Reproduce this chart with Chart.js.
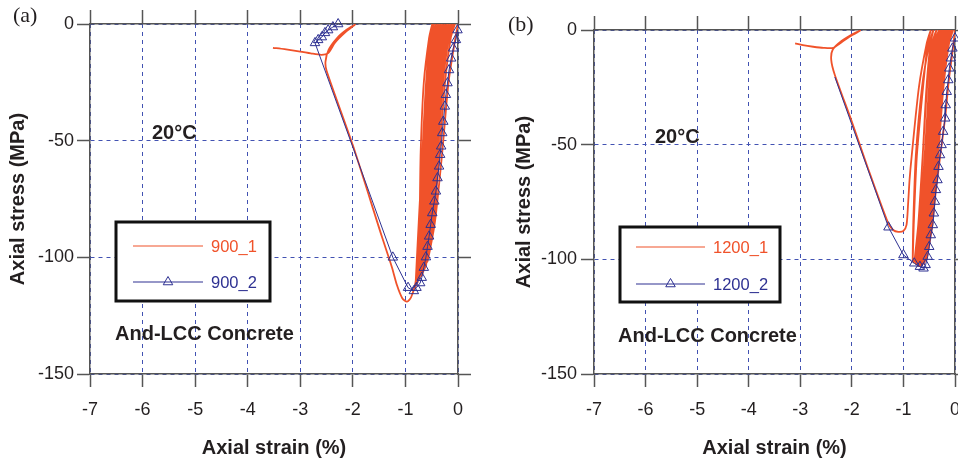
<!DOCTYPE html>
<html>
<head>
<meta charset="utf-8">
<title>Axial stress - axial strain, And-LCC concrete</title>
<script src="https://cdn.jsdelivr.net/npm/chart.js@4.4.1/dist/chart.umd.min.js"></script>
<style>
  html, body { margin: 0; padding: 0; background: #fff; overflow: hidden; }
  #wrap { position: relative; width: 958px; height: 461px; overflow: hidden; background: #fff; }
  #chartA { position: absolute; left: 0; top: 0; }
  #chartB { position: absolute; left: 479px; top: 0; }
</style>
</head>
<body>
<div id="wrap">
  <canvas id="chartA" width="479" height="461"></canvas>
  <canvas id="chartB" width="500" height="461"></canvas>
</div>
<script>
// Labels
const xTitle = 'Axial strain (%)';
const yTitle = 'Axial stress (MPa)';
const tempLabel = '20°C';
const materialLabel = 'And-LCC Concrete';
const seriesA = ['900_1', '900_2'];
const seriesB = ['1200_1', '1200_2'];

// Panel (a), specimen 900_1 (cyclic loops, then softening branch)
const strainA1 = [
    0, -0.05, -0.18, -0.30, -0.44, -0.58,
    -0.466, -0.351, -0.247, -0.138, -0.06,
    -0.17, -0.291, -0.401, -0.511, -0.61,
    -0.498, -0.386, -0.284, -0.177, -0.10,
    -0.206, -0.323, -0.429, -0.535, -0.63,
    -0.522, -0.414, -0.316, -0.214, -0.14,
    -0.242, -0.354, -0.456, -0.558, -0.65,
    -0.547, -0.443, -0.349, -0.251, -0.18,
    -0.278, -0.386, -0.484, -0.582, -0.67,
    -0.571, -0.472, -0.382, -0.288, -0.22,
    -0.314, -0.417, -0.511, -0.605, -0.69,
    -0.595, -0.501, -0.415, -0.325, -0.26,
    -0.35, -0.449, -0.539, -0.629, -0.71,
    -0.62, -0.53, -0.448, -0.362, -0.30,
    -0.386, -0.481, -0.567, -0.653, -0.73,
    -0.644, -0.558, -0.48, -0.399, -0.34,
    -0.422, -0.512, -0.594, -0.676, -0.75,
    -0.669, -0.587, -0.513, -0.436, -0.38,
    -0.458, -0.544, -0.622, -0.70, -0.77,
    -0.693, -0.616, -0.546, -0.473, -0.42,
    -0.494, -0.575, -0.649, -0.723, -0.79,
    -0.717, -0.645, -0.579, -0.51, -0.46,
    -0.53, -0.607, -0.677, -0.747, -0.81,
    -0.74, -0.669, -0.605, -0.538, -0.49,
    -0.55, -0.65, -0.71, -0.73, -0.75, -0.81, -0.89, -0.97, -1.06, -1.16, -1.26, -1.45, -2.0, -2.5,
    -2.52, -2.46, -2.3, -2.12, -1.96, -2.14, -2.34, -2.47, -2.6, -2.8, -3.0, -3.3, -3.52
];
const stressA1 = [
    0, -6, -25, -55, -85, -102,
    -85, -55, -25, -6, 0,
    -6, -25, -55, -85, -104,
    -85, -55, -25, -6, 0,
    -6, -25, -55, -85, -105,
    -85, -55, -25, -6, 0,
    -6, -25, -55, -85, -106,
    -85, -55, -25, -6, 0,
    -6, -25, -55, -85, -107,
    -85, -55, -25, -6, 0,
    -6, -25, -55, -85, -108,
    -85, -55, -25, -6, 0,
    -6, -25, -55, -85, -108,
    -85, -55, -25, -6, 0,
    -6, -25, -55, -85, -109,
    -85, -55, -25, -6, 0,
    -6, -25, -55, -85, -110,
    -85, -55, -25, -6, 0,
    -6, -25, -55, -85, -111,
    -85, -55, -25, -6, 0,
    -6, -25, -55, -85, -112,
    -85, -55, -25, -6, 0,
    -6, -25, -55, -85, -113,
    -85, -55, -25, -6, 0,
    -6, -25, -55, -85, -100, -111, -117, -119, -117.5, -112, -104, -91, -52, -20,
    -16, -11, -6, -2.5, -0.3, -3.5, -8, -12.5, -13.2, -12.6, -11.8, -10.8, -10.2
];

// Panel (a), specimen 900_2 (marked points)
const strainA2 = [-0.01, -0.04, -0.09, -0.13, -0.17, -0.20, -0.23, -0.25, -0.28, -0.30, -0.32, -0.34,
    -0.36, -0.39, -0.42, -0.45, -0.49, -0.52, -0.55, -0.58, -0.61, -0.65, -0.69, -0.72, -0.79, -0.84,
    -0.95, -1.24, -2.72, -2.66, -2.59, -2.53, -2.47, -2.38, -2.28];
const stressA2 = [-2.6, -6.8, -10.4, -14.7, -19.7, -25.3, -30.3, -35.3, -41.8, -46.7, -52.4, -56,
    -61, -66, -71.7, -76, -81, -86, -91, -95.4, -99.9, -104.4, -108.7, -111, -113, -114.4,
    -113, -100, -8.1, -6.8, -5.6, -3.8, -2.6, -1.3, 0];

// Panel (b), specimen 1200_1
const strainB1 = [
    0, -0.04, -0.12, -0.19, -0.27, -0.37, -0.45, -0.55,
    -0.438, -0.326, -0.224, -0.117, -0.04,
    -0.148, -0.267, -0.375, -0.483, -0.58,
    -0.468, -0.356, -0.254, -0.147, -0.07,
    -0.176, -0.293, -0.399, -0.505, -0.60,
    -0.49, -0.38, -0.28, -0.175, -0.10,
    -0.204, -0.318, -0.422, -0.526, -0.62,
    -0.512, -0.404, -0.306, -0.204, -0.13,
    -0.232, -0.344, -0.446, -0.548, -0.64,
    -0.534, -0.429, -0.333, -0.232, -0.16,
    -0.26, -0.37, -0.47, -0.57, -0.66,
    -0.557, -0.453, -0.359, -0.261, -0.19,
    -0.288, -0.396, -0.494, -0.592, -0.68,
    -0.579, -0.478, -0.386, -0.289, -0.22,
    -0.316, -0.422, -0.518, -0.614, -0.70,
    -0.601, -0.502, -0.412, -0.318, -0.25,
    -0.344, -0.447, -0.541, -0.635, -0.72,
    -0.623, -0.526, -0.438, -0.346, -0.28,
    -0.372, -0.473, -0.565, -0.657, -0.74,
    -0.645, -0.551, -0.465, -0.375, -0.31,
    -0.40, -0.499, -0.589, -0.679, -0.76,
    -0.672, -0.584, -0.504, -0.42, -0.36,
    -0.446, -0.541, -0.627, -0.713, -0.79,
    -0.709, -0.627, -0.553, -0.476, -0.42,
    -0.50, -0.64, -0.76, -0.81, -0.82,
    -0.80, -0.74, -0.62, -0.53, -0.47,
    -0.55, -0.70, -0.84, -0.88, -0.91, -0.94, -1.0, -1.1, -1.2, -1.3, -1.7, -2.0, -2.33,
    -2.40, -2.37, -2.2, -2.0, -1.84, -2.04, -2.24, -2.36, -2.55, -2.75, -2.95, -3.10
];
const stressB1 = [
    0, -8, -22, -38, -52, -70, -86, -100,
    -85, -55, -25, -6, 0,
    -6, -25, -55, -85, -101,
    -85, -55, -25, -6, 0,
    -6, -25, -55, -85, -102,
    -85, -55, -25, -6, 0,
    -6, -25, -55, -85, -102,
    -85, -55, -25, -6, 0,
    -6, -25, -55, -85, -103,
    -85, -55, -25, -6, 0,
    -6, -25, -55, -85, -103,
    -85, -55, -25, -6, 0,
    -6, -25, -55, -85, -103,
    -85, -55, -25, -6, 0,
    -6, -25, -55, -85, -103,
    -85, -55, -25, -6, 0,
    -6, -25, -55, -85, -103,
    -85, -55, -25, -6, 0,
    -6, -25, -55, -85, -102,
    -85, -55, -25, -6, 0,
    -6, -25, -55, -85, -102,
    -85, -55, -25, -6, 0,
    -6, -25, -55, -85, -101.5,
    -85, -55, -25, -6, 0,
    -6, -25, -55, -85, -101,
    -85, -55, -25, -6, 0,
    -6, -25, -55, -65, -76, -85, -87.6, -88, -87.2, -84, -59.5, -40, -19.6,
    -13, -8.5, -4.8, -2, -0.3, -2.8, -6, -7.8, -7.8, -7.3, -6.6, -5.8
];

// Panel (b), specimen 1200_2 (marked points, last one unmarked)
const strainB2 = [0, -0.05, -0.08, -0.11, -0.13, -0.16, -0.18, -0.19, -0.23, -0.26, -0.29, -0.32,
    -0.34, -0.37, -0.39, -0.41, -0.43, -0.47, -0.50, -0.53, -0.57, -0.61, -0.68, -0.79, -1.00, -1.29, -2.33];
const stressB2 = [-3.6, -8, -12.3, -16.7, -21.8, -26.9, -32.7, -38.5, -44.3, -50.1, -54.5, -59.6,
    -65.4, -69.7, -74.8, -79.9, -85, -89.4, -94.5, -98.8, -102.4, -103.9, -103.2, -101.7, -98.1, -86, -20.5];

const RED = '#f0522a';
const BLUE = '#2e3192';
const GRID = '#4252b2';
const AXIS = '#555555';
const INK = '#231f20';
const SANS = '"Liberation Sans", Arial, sans-serif';

function toPoints(xs, ys) {
    return xs.map((x, i) => ({ x: x, y: ys[i] }));
}

function drawTriangle(ctx, x, y, r) {
    ctx.beginPath();
    ctx.moveTo(x, y - r);
    ctx.lineTo(x + r * 0.866, y + r * 0.5);
    ctx.lineTo(x - r * 0.866, y + r * 0.5);
    ctx.closePath();
    ctx.stroke();
}

// panel tag, notes and boxed legend
const panelNotes = {
    id: 'panelNotes',
    afterDraw(chart, args, o) {
        const ctx = chart.ctx;
        ctx.save();
        ctx.fillStyle = INK;
        ctx.textBaseline = 'middle';
        ctx.textAlign = 'left';
        ctx.font = '22px "Liberation Serif", serif';
        ctx.fillText(o.tag, o.tagX, o.tagY);
        ctx.font = 'bold 20px ' + SANS;
        ctx.fillText(tempLabel, o.tempX, o.tempY);
        ctx.fillText(materialLabel, o.matX, o.matY);

        const b = o.box;
        ctx.fillStyle = '#fff';
        ctx.fillRect(b.x, b.y, b.w, b.h);
        ctx.lineWidth = 3;
        ctx.strokeStyle = '#111';
        ctx.strokeRect(b.x, b.y, b.w, b.h);
        ctx.font = '16.5px ' + SANS;
        chart.data.datasets.forEach((ds, i) => {
            const y = b.y + o.rows[i];
            ctx.strokeStyle = ds.borderColor;
            ctx.lineWidth = 1.2;
            ctx.beginPath();
            ctx.moveTo(b.x + o.line0, y);
            ctx.lineTo(b.x + o.line1, y);
            ctx.stroke();
            if (ds.pointStyle === 'triangle') {
                ctx.lineWidth = 1;
                drawTriangle(ctx, b.x + (o.line0 + o.line1) / 2, y, 5.5);
            }
            ctx.fillStyle = ds.borderColor;
            ctx.fillText(ds.label, b.x + o.textX, y + 1);
        });
        ctx.restore();
    }
};

function sideAxis(pos, size, tick) {
    const horizontal = pos === 'top';
    return {
        type: 'linear',
        position: pos,
        min: horizontal ? -7 : -150,
        max: 0,
        ticks: { stepSize: horizontal ? 1 : 50, display: false },
        grid: { drawOnChartArea: false, tickLength: tick, tickColor: AXIS, tickWidth: 1.5 },
        border: { color: AXIS, width: 1.5 },
        afterFit: function(scale) {
            if (horizontal) scale.height = size; else scale.width = size;
        }
    };
}

function createPanel(id, p) {
    const ctx = document.getElementById(id);
    return new Chart(ctx, {
        type: 'scatter',
        data: {
            datasets: [{
                label: p.names[0],
                data: toPoints(p.strain1, p.stress1),
                showLine: true,
                borderColor: RED,
                borderWidth: 1.8,
                pointRadius: 0,
                tension: 0.25,
                order: 2
            }, {
                label: p.names[1],
                data: toPoints(p.strain2, p.stress2),
                showLine: true,
                borderColor: BLUE,
                borderWidth: 1,
                pointStyle: 'triangle',
                pointRadius: function(c) {
                    return (p.lastBare && c.dataIndex === p.strain2.length - 1) ? 0 : 5.5;
                },
                pointBorderColor: BLUE,
                pointBackgroundColor: 'rgba(0,0,0,0)',
                pointBorderWidth: 1,
                tension: 0,
                clip: false,
                order: 1
            }]
        },
        options: {
            responsive: false,
            animation: false,
            events: [],
            layout: { padding: 0 },
            plugins: {
                legend: { display: false },
                tooltip: { enabled: false },
                panelNotes: p.notes
            },
            scales: {
                x: {
                    type: 'linear',
                    position: 'bottom',
                    min: -7,
                    max: 0,
                    ticks: { stepSize: 1, color: INK, font: { family: SANS, size: 18 }, padding: 12 },
                    grid: { color: GRID, lineWidth: 1, tickLength: 13, tickColor: AXIS, tickWidth: 1.5 },
                    border: { color: AXIS, width: 1.5, dash: [4, 4] },
                    title: {
                        display: true,
                        text: xTitle,
                        color: INK,
                        font: { family: SANS, size: 20, weight: 'bold' },
                        padding: { top: 0, bottom: 1 }
                    },
                    afterFit: function(scale) { scale.height = 87; }
                },
                x2: sideAxis('top', p.top, 14),
                y: {
                    type: 'linear',
                    position: 'left',
                    min: -150,
                    max: 0,
                    ticks: { stepSize: 50, color: INK, font: { family: SANS, size: 18 }, padding: p.yPad },
                    grid: { color: GRID, lineWidth: 1, tickLength: 13, tickColor: AXIS, tickWidth: 1.5 },
                    border: { color: AXIS, width: 1.5, dash: [4, 4] },
                    title: {
                        display: true,
                        text: yTitle,
                        color: INK,
                        font: { family: SANS, size: 20, weight: 'bold' },
                        padding: { top: p.yTitlePad, bottom: 0 }
                    },
                    afterFit: function(scale) { scale.width = p.left; }
                },
                y2: sideAxis('right', p.right, 13)
            }
        },
        plugins: [panelNotes]
    });
}

createPanel('chartA', {
    names: seriesA,
    strain1: strainA1, stress1: stressA1,
    strain2: strainA2, stress2: stressA2,
    lastBare: false,
    left: 90, right: 21, top: 24, yPad: 3, yTitlePad: 6,
    notes: {
        tag: '(a)', tagX: 13, tagY: 16,
        tempX: 152, tempY: 133,
        matX: 115, matY: 334,
        box: { x: 116, y: 222, w: 154, h: 79 },
        rows: [24, 60], line0: 17, line1: 87, textX: 95
    }
});

createPanel('chartB', {
    names: seriesB,
    strain1: strainB1, stress1: stressB1,
    strain2: strainB2, stress2: stressB2,
    lastBare: true,
    left: 115, right: 24, top: 30, yPad: 4, yTitlePad: 33,
    notes: {
        tag: '(b)', tagX: 29, tagY: 25,
        tempX: 176, tempY: 137,
        matX: 139, matY: 336,
        box: { x: 141, y: 227, w: 160, h: 75 },
        rows: [20, 57], line0: 16, line1: 85, textX: 93
    }
});
</script>
</body>
</html>
